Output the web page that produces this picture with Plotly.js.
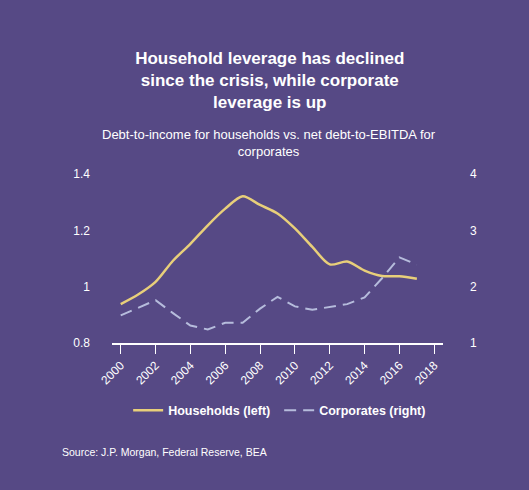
<!DOCTYPE html>
<html>
<head>
<meta charset="utf-8">
<script src="https://cdn.plot.ly/plotly-3.0.1.min.js"></script>
<style>
  html, body { margin: 0; padding: 0; background: #564985; }
  #chart { width: 529px; height: 490px; }
</style>
</head>
<body>
<div id="chart"></div>
<script>
// values, one per year
var years = [2000, 2001, 2002, 2003, 2004, 2005, 2006, 2007, 2008,
             2009, 2010, 2011, 2012, 2013, 2014, 2015, 2016, 2017];
var households = [0.938, 0.972, 1.017, 1.092, 1.152, 1.218, 1.277, 1.321, 1.290,
                  1.260, 1.207, 1.141, 1.079, 1.089, 1.057, 1.038, 1.037, 1.028];
var corporates = [1.49, 1.62, 1.76, 1.53, 1.31, 1.24, 1.36, 1.36, 1.61,
                  1.82, 1.65, 1.59, 1.64, 1.69, 1.81, 2.15, 2.52, 2.39];
var xTicks = [2000, 2002, 2004, 2006, 2008, 2010, 2012, 2014, 2016, 2018];

var font = "Liberation Sans, Arial, sans-serif";
var white = "#ffffff";

var data = [
    {
        x: years,
        y: households,
        name: "Households (left)",
        type: "scatter",
        mode: "lines",
        line: { color: "#e8cf7a", width: 2.5, shape: "spline", smoothing: 0.8 },
        yaxis: "y"
    },
    {
        x: years,
        y: corporates,
        name: "Corporates (right)",
        type: "scatter",
        mode: "lines",
        line: { color: "#b6bcdc", width: 2, dash: "12px,7px" },
        yaxis: "y2"
    }
];

var layout = {
    width: 529,
    height: 490,
    paper_bgcolor: "#564985",
    plot_bgcolor: "#564985",
    font: { family: font, color: white, size: 12 },
    margin: { l: 112, r: 86, t: 174, b: 147 },
    title: {
        text: "<b>Household leverage has declined<br>since the crisis, while corporate<br>leverage is up</b>",
        font: { family: font, size: 17, color: white },
        x: 0.51,
        xanchor: "center",
        y: 0.870,
        yanchor: "top"
    },
    xaxis: {
        range: [1999.5, 2018.5],
        tickvals: xTicks,
        tickangle: -45,
        showgrid: false,
        zeroline: false,
        showline: true,
        linecolor: white,
        linewidth: 1.5,
        ticks: "outside",
        ticklen: 9,
        tickwidth: 1,
        tickcolor: white,
        tickfont: { size: 12, color: white }
    },
    yaxis: {
        range: [0.8, 1.4],
        tickvals: [0.8, 1, 1.2, 1.4],
        ticktext: ["0.8", "1", "1.2", "1.4"],
        showgrid: false,
        zeroline: false,
        showline: false,
        ticks: "",
        ticklabelstandoff: 21,
        tickfont: { size: 12, color: white }
    },
    yaxis2: {
        range: [1, 4],
        tickvals: [1, 2, 3, 4],
        overlaying: "y",
        side: "right",
        showgrid: false,
        zeroline: false,
        showline: false,
        ticks: "",
        ticklabelstandoff: 26,
        tickfont: { size: 12, color: white }
    },
    showlegend: true,
    legend: {
        orientation: "h",
        entrywidth: 106,
        entrywidthmode: "pixels",
        x: 0.505,
        xanchor: "center",
        y: -0.40,
        yanchor: "middle",
        bgcolor: "rgba(0,0,0,0)",
        font: { family: font, size: 12.5, color: white, weight: "bold" }
    },
    annotations: [
        {
            text: "Debt-to-income for households vs. net debt-to-EBITDA for<br>corporates",
            xref: "paper", yref: "paper",
            x: 0.474, y: 1.186,
            xanchor: "center", yanchor: "middle",
            showarrow: false,
            font: { family: font, size: 13, color: white }
        },
        {
            text: "Source: J.P. Morgan, Federal Reserve, BEA",
            xref: "paper", yref: "paper",
            x: -0.157, y: -0.645,
            xanchor: "left", yanchor: "middle",
            showarrow: false,
            font: { family: font, size: 10.5, color: white }
        }
    ]
};

Plotly.newPlot(document.getElementById("chart"), data, layout, { displayModeBar: false });
</script>
</body>
</html>
